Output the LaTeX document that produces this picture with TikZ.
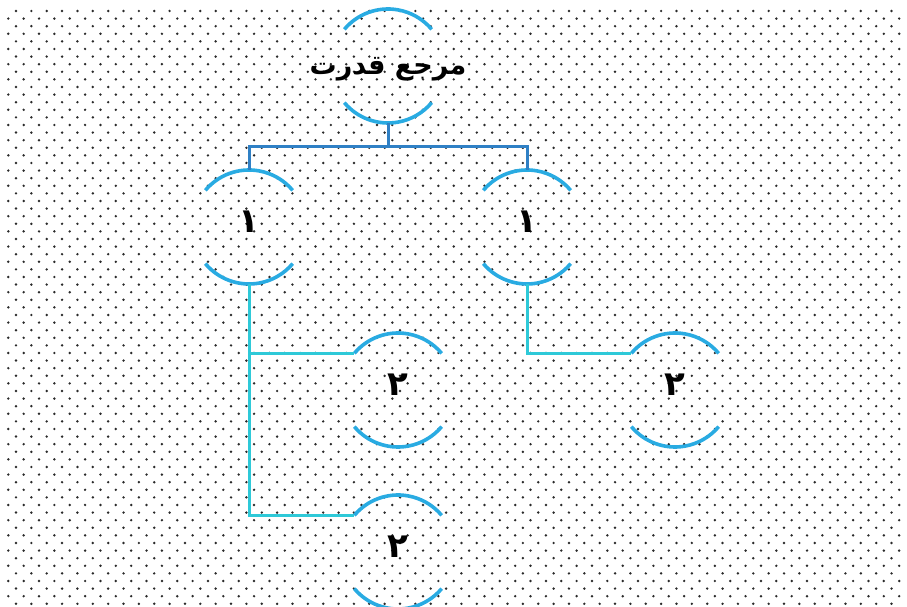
\documentclass[tikz,border=0pt]{standalone}
\usepackage{fontspec}
\newfontfamily\arabicfont[Script=Arabic]{DejaVu Sans}
\TeXXeTstate=1
\definecolor{rimc}{HTML}{29ABE2}
\definecolor{trunkc}{HTML}{2F80C5}
\definecolor{twigc}{HTML}{2EC9D8}
\definecolor{dotc}{HTML}{2A2A2A}
\tikzset{
  ring/.style={circle,minimum size=114pt,inner sep=0pt,outer sep=0pt},
  rim/.style={rimc,line width=3.6pt},
  trunk/.style={trunkc,line width=3pt},
  twig/.style={twigc,line width=3pt},
  fa/.style={font=\arabicfont\bfseries\fontsize{27}{31}\selectfont,yshift=-3pt},
  num/.style={font=\arabicfont\bfseries\fontsize{34}{38}\selectfont,yshift=5pt}
}
\begin{document}
\begin{tikzpicture}[x=1pt,y=1pt]
    \useasboundingbox (0,0) rectangle (907,607);
    % dotted paper
    \foreach \k in {0,...,78}{
      \pgfmathsetmacro\yy{596-7.6*\k}
      \pgfmathsetmacro\xs{mod(\k,2)==0 ? 16 : 8.3}
      \pgfmathsetmacro\nn{mod(\k,2)==0 ? 57 : 58}
      \foreach \c in {0,...,\nn}
        \fill[dotc] (\xs+15.36*\c,\yy) circle[radius=1.35];
    }
    \node[ring,label={[fa]center:\beginR مرجع قدرت\endR}] (top) at (388,541) {};
    \node[ring,label={[num]center:\beginR ۱\endR}] (a) at (249,380) {};
    \node[ring,label={[num]center:\beginR ۱\endR}] (b) at (527,380) {};
    \node[ring,label={[num]center:\beginR ۲\endR}] (a1) at (398,217) {};
    \node[ring,label={[num]center:\beginR ۲\endR}] (a2) at (398,55) {};
    \node[ring,label={[num]center:\beginR ۲\endR}] (b1) at (675,217) {};
    \foreach \n in {top,a,b,a1,a2,b1}{
      \draw[rim] (\n.140) arc[start angle=140,end angle=40,radius=57];
      \draw[rim] (\n.220) arc[start angle=220,end angle=320,radius=57];
    }
    \coordinate (split) at ([yshift=-24pt]top.south);
    \draw[trunk] (top.south)--(split);
    \draw[trunk] (a.north)|-(split)-|(b.north);
    \draw[twig] (a.south)|-(a2.140);
    \draw[twig] (a.south|-a1.140)--(a1.140);
    \draw[twig] (b.south)|-(b1.140);
\end{tikzpicture}
\end{document}
